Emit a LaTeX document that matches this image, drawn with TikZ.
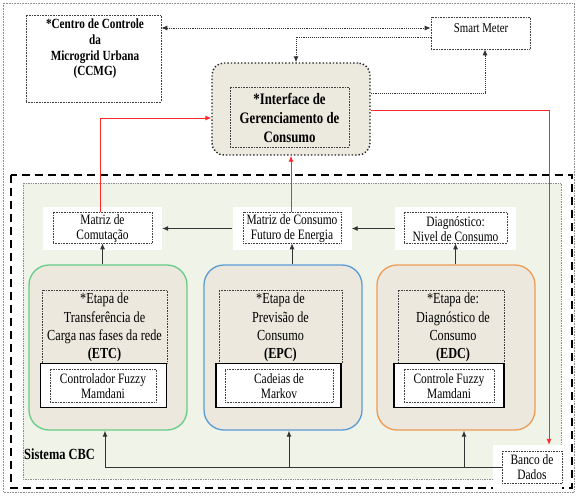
\documentclass[tikz,border=0pt]{standalone}
\usepackage{fontspec}
\setmainfont{Liberation Serif}[FakeStretch=0.8]
\usetikzlibrary{arrows.meta,calc}
\definecolor{ifill}{HTML}{ECE9DF}
\definecolor{bfill}{HTML}{ECE8DE}
\definecolor{gfill}{HTML}{F0F4E8}
\definecolor{cgreen}{HTML}{66CC88}
\definecolor{cblue}{HTML}{5B9BD5}
\definecolor{corange}{HTML}{ED9B55}
\definecolor{cred}{HTML}{FF2828}
\tikzset{
  tip/.tip={Latex[length=6pt,width=5pt]},
  dotbox/.style={draw=black!75, densely dotted, line width=0.6pt, inner sep=0pt},
  bgbox/.style={fill=white, inner sep=0pt},
  bigbox/.style={line width=1.3pt, fill=bfill, rounded corners=20pt, inner sep=0pt, minimum width=158pt, minimum height=165pt},
  solidbox/.style={draw=black, line width=1.3pt, fill=white, inner sep=0pt, minimum height=44pt},
  txt/.style={align=center, inner sep=0pt, font=\fontsize{14.3}{15}\selectfont},
  bigtxt/.style={align=center, inner sep=0pt, font=\fontsize{15.3}{18.3}\selectfont},
  dotarr/.style={densely dotted, line width=0.9pt, black!80},
  blkarr/.style={line width=0.9pt, black!80, -tip},
  redarr/.style={line width=0.9pt, cred, -tip}
}
\begin{document}
\begin{tikzpicture}[x=1pt,y=-1pt]
\useasboundingbox (0,0) rectangle (577,495);
\fill[white] (0,0) rectangle (577,495);
% outer frame
\draw[black!45, densely dotted, line width=0.6pt] (3,3) rectangle (574,492);

% CCMG
\node[dotbox, minimum width=135pt, minimum height=87pt] (ccmg) at (93.5,58.5) {};
\node[txt, font=\bfseries\fontsize{14}{15.7}\selectfont] (ccmgt) at (95,49) {*Centro de Controle\\da\\Microgrid Urbana\\(CCMG)};

% Smart meter
\node[dotbox, minimum width=99pt, minimum height=32pt] (sm) at (480.5,33) {};
\node[txt, font=\fontsize{13.5}{14}\selectfont] (smt) at (481,28) {Smart Meter};

% Interface
\node[draw=black!85, dotted, line width=1.4pt, fill=ifill, rounded corners=12pt, minimum width=158pt, minimum height=92pt, inner sep=0pt] (iface) at (291,109) {};
\node[dotbox, minimum width=119pt, minimum height=60pt] (ifacein) at (289.5,117) {};
\node[txt, font=\bfseries\fontsize{16}{19}\selectfont] (ifacet) at (289.5,117.5) {*Interface de\\Gerenciamento de\\Consumo};

% Sistema CBC
\draw[black, dash pattern=on 8pt off 5pt, line width=1.8pt] (11,175) rectangle (572,488);
\draw[black!45, densely dotted, line width=0.7pt, fill=gfill] (23,183) rectangle (561,479);

% small boxes
\node[bgbox, minimum width=119pt, minimum height=43pt] (mcbg) at (102.5,228.5) {};
\node[dotbox, minimum width=99pt, minimum height=31pt] (mc) at (102.5,227.5) {};
\node[txt] (mct) at (102.5,229) {Matriz de\\Comutação};

\node[bgbox, minimum width=119pt, minimum height=43pt] (mfbg) at (292,228.5) {};
\node[dotbox, minimum width=98pt, minimum height=31pt] (mf) at (292,227.5) {};
\node[txt] (mft) at (292,229) {Matriz de Consumo\\Futuro de Energia};

\node[bgbox, minimum width=121pt, minimum height=43pt] (dgbg) at (455.5,228.5) {};
\node[dotbox, minimum width=103pt, minimum height=31pt] (dg) at (455.5,227.5) {};
\node[txt] (dgt) at (455.5,229) {Diagnóstico:\\Nivel de Consumo};

% big boxes
\node[bigbox, draw=cgreen] (etc) at (108,347.5) {};
\node[bigbox, draw=cblue] (epc) at (283,347.5) {};
\node[bigbox, draw=corange] (edc) at (456,347.5) {};

\node[dotbox, minimum width=125pt, minimum height=73pt] (etct) at (104.5,326.5) {};
\node[bigtxt] (etctx) at (104.5,327.5) {*Etapa de\\Transferência de\\Carga nas fases da rede\\\textbf{(ETC)}};
\node[solidbox, minimum width=126pt] (etcs) at (103.5,385.5) {};
\node[dotbox, minimum width=106pt, minimum height=33pt] (etcf) at (103,385.5) {};
\node[txt] (etcft) at (103,386) {Controlador Fuzzy\\Mamdani};

\node[dotbox, minimum width=123pt, minimum height=73pt] (epct) at (280.5,326.5) {};
\node[bigtxt] (epctx) at (280.5,327.5) {*Etapa de\\Previsão de\\Consumo\\\textbf{(EPC)}};
\node[solidbox, minimum width=125pt] (epcs) at (278.5,385.5) {};
\node[dotbox, minimum width=108pt, minimum height=33pt] (epcf) at (279,385.5) {};
\node[txt] (epcft) at (279,386) {Cadeias de\\Markov};

\node[dotbox, minimum width=106pt, minimum height=73pt] (edct) at (451,326.5) {};
\node[bigtxt] (edctx) at (453,327.5) {*Etapa de:\\Diagnóstico de\\Consumo\\\textbf{(EDC)}};
\node[solidbox, minimum width=110pt] (edcs) at (449,385.5) {};
\node[dotbox, minimum width=90pt, minimum height=33pt] (edcf) at (449,385.5) {};
\node[txt] (edcft) at (449,386) {Controle Fuzzy\\Mamdani};

% Banco de dados
\node[bgbox, minimum width=69pt, minimum height=47pt] (bancobg) at (527.5,468.5) {};
\node[dotbox, minimum width=60pt, minimum height=32pt] (banco) at (532,467) {};
\node[txt] (bancot) at (532,467) {Banco de\\Dados};

\node[anchor=west, inner sep=0pt, font=\bfseries\fontsize{15.5}{17}\selectfont] (cbc) at (24,454) {Sistema CBC};

% top dotted connectors
\coordinate (d1) at ($(sm.west)+(0,-5)$);
\draw[dotarr, tip-tip] (d1 -| ccmg.east) -- (d1);
\coordinate (d2) at ($(sm.west)+(0,4)$);
\coordinate (d3) at ($(iface.north)+(5,0)$);
\draw[dotarr, -tip] (d2) -| (d3);
\coordinate (d4) at ($(iface.east)+(0,-16)$);
\coordinate (d5) at ($(sm.south)+(4.5,0)$);
\draw[dotarr, -tip] (d4) -| (d5);

% red connectors
\coordinate (r1) at ($(bancobg.north)+(21.5,0)$);
\draw[redarr] ($(iface.east)+(0,1)$) -| (r1);
\coordinate (r2) at ($(mc.north)+(-2.5,0)$);
\coordinate (r3) at ($(iface.west)+(0,9)$);
\draw[redarr] (r2) |- (r3);
\draw[redarr] (mf.north -| iface.south) -- (iface.south);

% black arrows between small boxes
\draw[blkarr] (mfbg.west) -- (mcbg.east);
\draw[blkarr] (dgbg.west) -- (mfbg.east);
\draw[blkarr] (mc.south |- etc.north) -- (mc.south);
\draw[blkarr] (mf.south |- epc.north) -- (mf.south);
\draw[blkarr] (dg.south |- edc.north) -- (dg.south);

% bottom bus
\coordinate (b1) at ($(etc.south)+(-3,0)$);
\coordinate (b2) at ($(epc.south)+(6,0)$);
\coordinate (b3) at ($(edc.south)+(8,0)$);
\draw[line width=0.9pt, black!80] (banco.west) -- (b1 |- banco.west);
\draw[blkarr] (b1 |- banco.west) -- (b1);
\draw[blkarr] (b2 |- banco.west) -- (b2);
\draw[blkarr] (b3 |- banco.west) -- (b3);
\end{tikzpicture}
\end{document}
